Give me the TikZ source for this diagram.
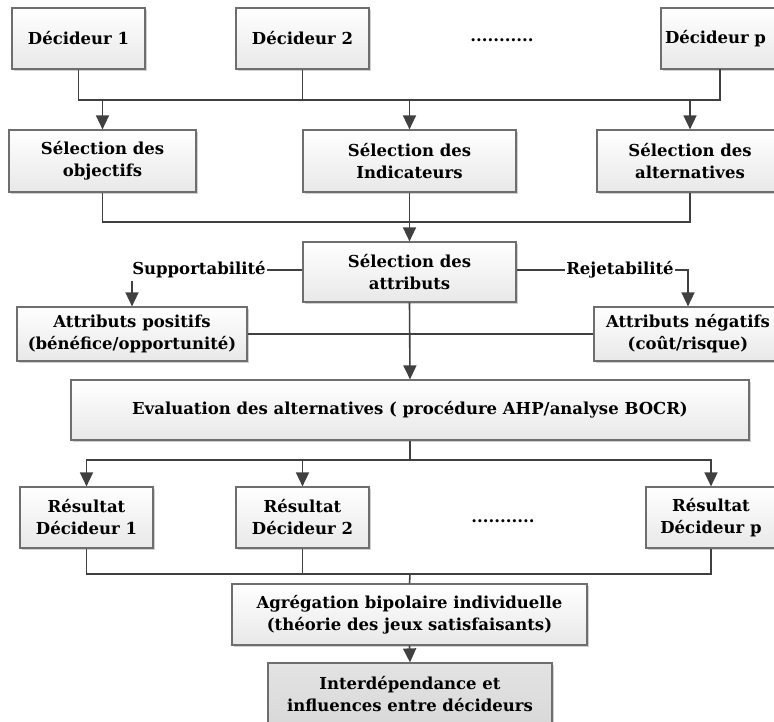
\documentclass[tikz,border=0pt]{standalone}
\usepackage{fontspec}
\setmainfont{DejaVu Serif}
\usetikzlibrary{arrows.meta,shadows}
\definecolor{linegray}{HTML}{404040}
\definecolor{boxline}{HTML}{6E6E6E}
\begin{document}
\begin{tikzpicture}[x=1pt,y=-1pt,
  font=\fontsize{16.5}{22}\selectfont\bfseries,
  box/.style={draw=boxline, line width=1.2pt, top color=white, bottom color=gray!18,
    align=center, inner sep=0pt,
    drop shadow={shadow xshift=2.4pt, shadow yshift=-2.4pt, fill=gray!45, opacity=0.8}},
  darkbox/.style={box, top color=gray!22, bottom color=gray!30},
  lbl/.style={inner xsep=1pt, inner ysep=2pt},
  conn/.style={draw=linegray, line width=1.6pt},
  arr/.style={conn, -{Triangle[length=14pt,width=13pt]}}]
\useasboundingbox (0,0) rectangle (774,721);
\clip (0,0) rectangle (774,721);

% decision makers
\node[box, minimum width=133, minimum height=61] (d1) at (78.5,38.5) {Décideur 1};
\node[box, minimum width=133, minimum height=61] (d2) at (302.5,38.5) {Décideur 2};
\node (dots1) at (502,40) {...........};
\node[box, minimum width=133, minimum height=61, text width=125, inner xsep=4pt, align=left] (dp) at (727.5,38.5) {Décideur p};

% selection stage
\node[box, minimum width=187, minimum height=62] (so) at (102.5,161) {Sélection des\\objectifs};
\node[box, minimum width=213, minimum height=62] (si) at (409.5,161) {Sélection des\\Indicateurs};
\node[box, minimum width=186, minimum height=62] (sa) at (690,161) {Sélection des\\alternatives};

\node[box, minimum width=213, minimum height=60] (sat) at (409.5,272) {Sélection des\\attributs};
\node[lbl] (sup) at (199,270) {Supportabilité};
\node[lbl] (rej) at (620,270) {Rejetabilité};

\node[box, minimum width=230, minimum height=54] (ap) at (132,334) {Attributs positifs\\(bénéfice/opportunité)};
\node[box, minimum width=188, minimum height=54] (an) at (688,334) {Attributs négatifs\\(coût/risque)};

% evaluation
\node[box, minimum width=678, minimum height=60] (ev) at (410,410) {Evaluation des alternatives ( procédure AHP/analyse BOCR)};

% individual results
\node[box, minimum width=133, minimum height=61] (r1) at (86.5,517.5) {Résultat\\Décideur 1};
\node[box, minimum width=133, minimum height=61] (r2) at (302.5,517.5) {Résultat\\Décideur 2};
\node (dots2) at (503,521) {...........};
\node[box, minimum width=130, minimum height=61] (rp) at (711,517.5) {Résultat\\Décideur p};

% aggregation
\node[box, minimum width=355, minimum height=61] (ag) at (409.5,614.5) {Agrégation bipolaire individuelle\\(théorie des jeux satisfaisants)};
\node[darkbox, minimum width=284, minimum height=62] (id) at (410,694) {Interdépendance et\\influences entre décideurs};

% bus junctions
\coordinate (dpo) at (720,69);
\coordinate (bus1) at (720,100);
\coordinate (bus2) at (690,222);
\coordinate (bus3) at (410,460);
\coordinate (bus4) at (410,574);

% decision makers -> selections
\draw[conn] (d1.south) |- (bus1) -- (dpo);
\draw[conn] (d2.south) -- (d2.south |- bus1);
\draw[arr] (so.north |- bus1) -- (so.north);
\draw[arr] (si.north |- bus1) -- (si.north);
\draw[arr] (sa.north |- bus1) -- (sa.north);

% selections -> attributes
\draw[conn] (so.south) |- (bus2) -- (sa.south);
\draw[arr] (si.south) -- (sat.north);
\draw[conn] (sat.west |- sup.east) -- (sup.east);
\draw[arr] (sup.south -| ap.north) -- (ap.north);
\draw[conn] (sat.east |- rej.west) -- (rej.west);
\draw[arr] (rej.east) -| (an.north);
\draw[conn] (ap.east) -- (an.west);
\draw[arr] (sat.south) -- (ev.north);

% evaluation -> results
\draw[conn] (ev.south) -- (bus3);
\draw[arr] (bus3) -| (r1.north);
\draw[arr] (bus3) -| (rp.north);
\draw[arr] (r2.north |- bus3) -- (r2.north);

% results -> aggregation
\draw[conn] (r1.south) |- (bus4) -| (rp.south);
\draw[conn] (r2.south) -- (r2.south |- bus4);
\draw[conn] (bus4) -- (ag.north);
\draw[arr] (ag.south) -- (id.north);
\end{tikzpicture}
\end{document}
